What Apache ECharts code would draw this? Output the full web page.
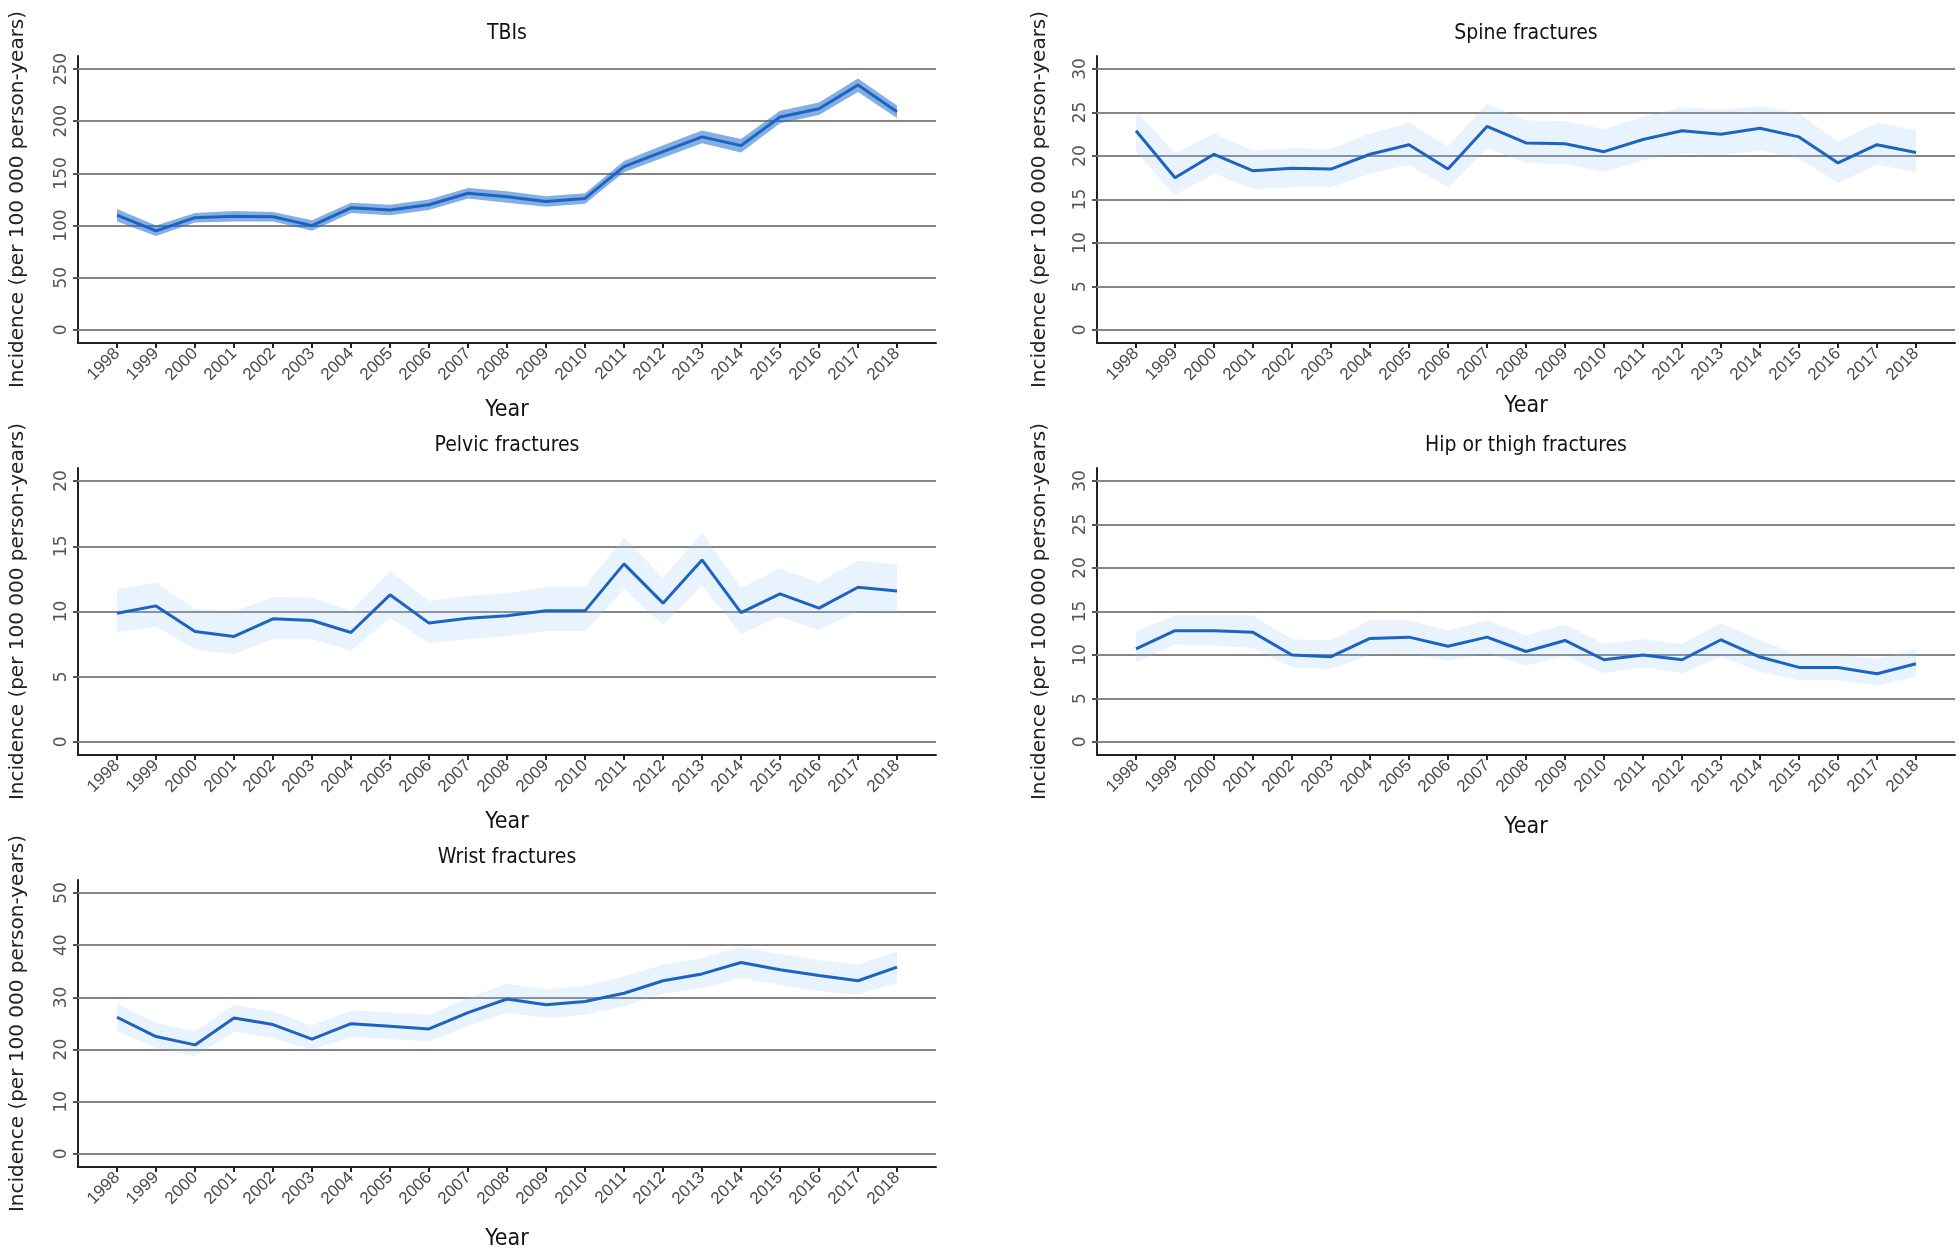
<!DOCTYPE html>
<html>
<head>
<meta charset="utf-8">
<title>Injury incidence 1998-2018</title>
<script src="https://cdn.jsdelivr.net/npm/echarts@6/dist/echarts.min.js"></script>
<style>
  html, body { margin: 0; padding: 0; background: #fff; }
  #chart { width: 1960px; height: 1253px; }
</style>
</head>
<body>
<div id="chart"></div>
<script>
// years on the x axis
const years = [1998, 1999, 2000, 2001, 2002, 2003, 2004, 2005, 2006, 2007, 2008, 2009, 2010, 2011, 2012, 2013, 2014, 2015, 2016, 2017, 2018]

const titles = ['TBIs', 'Spine fractures', 'Pelvic fractures', 'Hip or thigh fractures', 'Wrist fractures']

// y tick labels per panel
const tbiTicks = [0, 50, 100, 150, 200, 250]
const spineTicks = [0, 5, 10, 15, 20, 25, 30]
const pelvicTicks = [0, 5, 10, 15, 20]
const hipTicks = [0, 5, 10, 15, 20, 25, 30]
const wristTicks = [0, 10, 20, 30, 40, 50]

// incidence per 100 000 person-years, with 95% CI
const tbiValues = [110, 95, 107.6, 109, 108.5, 100, 117, 115, 120, 131, 127.7, 123, 126, 156.5, 170.8, 185, 176.6, 204, 212, 234.7, 209]
const tbiLower = [104, 90, 103, 104, 104, 95, 112, 110, 115, 126, 122, 118, 121, 151, 165, 179, 170, 198, 206, 228, 203]
const tbiUpper = [116, 100, 112, 114, 113, 105, 122, 120, 125, 136, 133, 128, 131, 162, 177, 191, 183, 210, 218, 241, 215]

const spineValues = [22.9, 17.5, 20.2, 18.3, 18.6, 18.5, 20.2, 21.3, 18.5, 23.4, 21.5, 21.4, 20.5, 21.9, 22.9, 22.5, 23.2, 22.2, 19.2, 21.3, 20.4]
const spineLower = [20.5, 15.5, 18.0, 16.2, 16.4, 16.4, 18.0, 19.0, 16.4, 20.9, 19.2, 19.1, 18.2, 19.5, 20.3, 20.1, 20.6, 19.7, 16.9, 19.0, 18.1]
const spineUpper = [25.3, 20.3, 22.6, 20.6, 20.9, 20.8, 22.6, 23.8, 21.1, 26.0, 24.1, 24.0, 23.1, 24.5, 25.6, 25.3, 25.7, 24.9, 21.6, 23.8, 23.0]

const pelvicValues = [9.87, 10.43, 8.47, 8.09, 9.44, 9.31, 8.39, 11.28, 9.11, 9.49, 9.67, 10.05, 10.05, 13.65, 10.64, 13.95, 9.92, 11.35, 10.26, 11.86, 11.58]
const pelvicLower = [8.4, 8.85, 7.1, 6.7, 7.9, 7.9, 7.0, 9.5, 7.6, 7.9, 8.1, 8.5, 8.5, 11.7, 9.0, 12.0, 8.3, 9.6, 8.6, 10.0, 9.95]
const pelvicUpper = [11.7, 12.2, 10.2, 10.0, 11.1, 11.07, 10.0, 13.1, 10.8, 11.2, 11.4, 11.86, 11.9, 15.7, 12.55, 16.05, 11.8, 13.3, 12.2, 13.9, 13.6]

const hipValues = [10.7, 12.8, 12.8, 12.6, 10.0, 9.8, 11.9, 12.05, 11.0, 12.05, 10.4, 11.67, 9.45, 10.0, 9.45, 11.75, 9.76, 8.57, 8.57, 7.85, 9.0]
const hipLower = [9.15, 11.2, 11.06, 10.8, 8.6, 8.4, 10.0, 10.2, 9.4, 10.2, 8.76, 9.9, 7.9, 8.6, 7.9, 9.8, 8.1, 7.1, 7.1, 6.5, 7.5]
const hipUpper = [12.7, 14.6, 14.6, 14.55, 11.8, 11.67, 14.0, 14.0, 12.8, 14.0, 12.2, 13.5, 11.25, 11.8, 11.25, 13.66, 11.67, 10.0, 10.0, 9.6, 10.7]

const wristValues = [26.2, 22.5, 20.9, 26.05, 24.8, 22.0, 24.97, 24.46, 23.95, 27.1, 29.7, 28.6, 29.2, 30.8, 33.2, 34.5, 36.7, 35.3, 34.2, 33.2, 35.8]
const wristLower = [23.5, 20.3, 18.7, 23.5, 22.2, 20.0, 22.4, 22.0, 21.6, 24.5, 27.1, 26.05, 26.7, 28.3, 30.7, 31.8, 33.7, 32.4, 31.2, 30.5, 32.8]
const wristUpper = [28.8, 25.1, 23.5, 28.6, 27.3, 24.6, 27.5, 27.1, 26.7, 29.9, 32.6, 31.5, 32.2, 34.0, 36.3, 37.5, 39.65, 38.3, 37.1, 36.3, 38.8]

const panelData = [
  { ticks: tbiTicks, values: tbiValues, lower: tbiLower, upper: tbiUpper },
  { ticks: spineTicks, values: spineValues, lower: spineLower, upper: spineUpper },
  { ticks: pelvicTicks, values: pelvicValues, lower: pelvicLower, upper: pelvicUpper },
  { ticks: hipTicks, values: hipValues, lower: hipLower, upper: hipUpper },
  { ticks: wristTicks, values: wristValues, lower: wristLower, upper: wristUpper }
]

// layout of each panel (px)
const layout = [
  { left: 78, top: 56, yearGap: 56, nameGap: 50, titleTop: 23, band: 'rgba(30,110,205,0.55)' },
  { left: 1097, top: 56, yearGap: 52, nameGap: 47, titleTop: 23, band: 'rgba(150,200,245,0.22)' },
  { left: 78, top: 468, yearGap: 56, nameGap: 50, titleTop: 435, band: 'rgba(150,200,245,0.22)' },
  { left: 1097, top: 468, yearGap: 61, nameGap: 47, titleTop: 435, band: 'rgba(150,200,245,0.22)' },
  { left: 78, top: 880, yearGap: 61, nameGap: 50, titleTop: 847, band: 'rgba(150,200,245,0.22)' }
]
const plotW = 858
const plotH = 287

const narrow = '"Liberation Sans Narrow", "DejaVu Sans Condensed", sans-serif'
const lineColor = '#1c64c0'

const chart = echarts.init(document.getElementById('chart'))

const option = {
  animation: false,
  backgroundColor: '#fff',
  title: [],
  grid: [],
  xAxis: [],
  yAxis: [],
  series: []
}

panelData.forEach((p, i) => {
  const l = layout[i]
  const top = p.ticks[p.ticks.length - 1]
  option.title.push({
    text: titles[i],
    left: l.left + plotW / 2,
    top: l.titleTop,
    textAlign: 'center',
    padding: 0,
    textStyle: { fontFamily: narrow, fontSize: 21, fontWeight: 'normal', color: '#111' }
  })
  option.grid.push({ left: l.left, top: l.top, width: plotW, height: plotH })
  option.xAxis.push({
    gridIndex: i,
    type: 'value',
    min: 1997,
    max: 2019,
    name: 'Year',
    nameLocation: 'middle',
    nameGap: l.yearGap,
    nameTextStyle: { fontFamily: narrow, fontSize: 23, color: '#111' },
    axisLine: { onZero: false, lineStyle: { color: '#222', width: 2 } },
    axisTick: { customValues: years, length: 5, lineStyle: { color: '#222', width: 2 } },
    axisLabel: {
      customValues: years,
      rotate: 45,
      margin: 8,
      fontFamily: 'Liberation Sans, Arial, sans-serif',
      fontSize: 17,
      color: '#4a4a4a',
      formatter: (v) => String(v)
    },
    splitLine: { show: false }
  })
  option.yAxis.push({
    gridIndex: i,
    type: 'value',
    min: -0.05 * top,
    max: 1.05 * top,
    name: 'Incidence (per 100 000 person-years)',
    nameLocation: 'middle',
    nameRotate: 90,
    nameGap: l.nameGap,
    nameTextStyle: { fontFamily: 'DejaVu Sans, sans-serif', fontSize: 20, color: '#222' },
    axisLine: { onZero: false, lineStyle: { color: '#222', width: 2 } },
    axisTick: { customValues: p.ticks, length: 5, lineStyle: { color: '#555', width: 2 } },
    axisLabel: {
      customValues: p.ticks,
      rotate: 90,
      margin: 8,
      fontFamily: 'DejaVu Sans, sans-serif',
      fontSize: 17,
      color: '#555',
      formatter: (v) => String(v)
    },
    splitLine: { show: false }
  })
  // confidence band
  option.series.push({
    type: 'custom',
    xAxisIndex: i,
    yAxisIndex: i,
    z: 2,
    silent: true,
    encode: { x: 0, y: [1, 2] },
    data: years.map((y, k) => [y, p.lower[k], p.upper[k]]),
    renderItem: (params, api) => {
      if (params.dataIndex !== 0) return
      const upperPts = years.map((y, k) => api.coord([y, p.upper[k]]))
      const lowerPts = years.map((y, k) => api.coord([y, p.lower[k]])).reverse()
      return {
        type: 'polygon',
        shape: { points: upperPts.concat(lowerPts) },
        style: { fill: l.band }
      }
    }
  })
  // estimate line + horizontal grid lines
  option.series.push({
    type: 'line',
    xAxisIndex: i,
    yAxisIndex: i,
    z: 3,
    silent: true,
    symbol: 'none',
    data: years.map((y, k) => [y, p.values[k]]),
    lineStyle: { color: lineColor, width: 3 },
    markLine: {
      silent: true,
      z: 1,
      symbol: ['none', 'none'],
      label: { show: false },
      lineStyle: { color: '#858585', width: 2, type: 'solid' },
      emphasis: { disabled: true },
      data: p.ticks.map((t) => ({ yAxis: t }))
    }
  })
})

chart.setOption(option)
window.addEventListener('resize', () => chart.resize())
</script>
</body>
</html>
